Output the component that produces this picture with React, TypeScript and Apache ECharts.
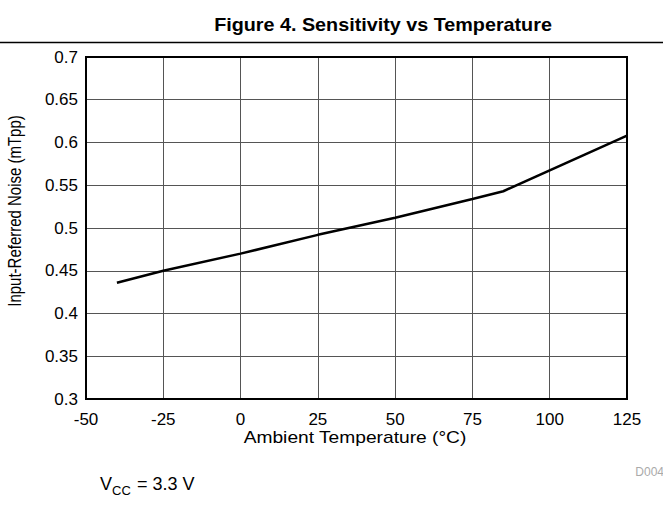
import React, { useEffect, useRef } from "react";
import * as echarts from "echarts";

const temperatures = [-40, -25, 0, 25, 50, 75, 85, 125];
const noise = [0.436, 0.45, 0.47, 0.492, 0.512, 0.534, 0.543, 0.608];
const titleText = "Figure 4. Sensitivity vs Temperature";
const xName = "Ambient Temperature (°C)";
const yName = "Input-Referred Noise (mTpp)";

export default function App() {
  const ref = useRef<HTMLDivElement>(null);
  useEffect(() => {
    const chart = echarts.init(ref.current!, null, { renderer: "svg" });
    const font = "Liberation Sans, Arial, Helvetica, sans-serif";
    chart.setOption({
      animation: false,
      backgroundColor: "#fff",
      textStyle: { fontFamily: font },
      grid: { left: 86, right: 36, top: 57, bottom: 111, containLabel: false },
      xAxis: {
        type: "value",
        min: -50,
        max: 125,
        interval: 25,
        axisLine: { show: false },
        axisTick: { show: false },
        axisLabel: { fontSize: 17, color: "#000", margin: 12, fontFamily: font },
        splitLine: { show: true, lineStyle: { color: "#555", width: 1 } },
      },
      yAxis: {
        type: "value",
        min: 0.3,
        max: 0.7,
        interval: 0.05,
        axisLine: { show: false },
        axisTick: { show: false },
        axisLabel: {
          fontSize: 17,
          color: "#000",
          margin: 8,
          fontFamily: font,
          formatter: (v: number) => String(parseFloat(v.toFixed(2))),
        },
        splitLine: { show: true, lineStyle: { color: "#555", width: 1 } },
      },
      series: [
        {
          type: "line",
          data: temperatures.map((t, i) => [t, noise[i]]),
          showSymbol: false,
          lineStyle: { color: "#000", width: 2.5 },
          z: 5,
        },
      ],
      graphic: [
        {
          type: "text",
          x: 383,
          y: 24,
          scaleX: 1.04,
          style: {
            text: titleText,
            font: `bold 19px ${font}`,
            fill: "#000",
            align: "center",
            verticalAlign: "middle",
          },
        },
        {
          type: "line",
          shape: { x1: 0, y1: 42.5, x2: 663, y2: 42.5 },
          style: { stroke: "#000", lineWidth: 1.5 },
        },
        {
          type: "rect",
          shape: { x: 86, y: 57, width: 541, height: 342 },
          style: { fill: "none", stroke: "#000", lineWidth: 2 },
          z: 10,
        },
        {
          type: "text",
          x: 355,
          y: 438,
          scaleX: 1.2,
          style: {
            text: xName,
            font: `16px ${font}`,
            fill: "#000",
            align: "center",
            verticalAlign: "middle",
          },
        },
        {
          type: "text",
          x: 15,
          y: 211,
          rotation: Math.PI / 2,
          scaleY: 1.2,
          style: {
            text: yName,
            font: `15px ${font}`,
            fill: "#000",
            align: "center",
            verticalAlign: "middle",
          },
        },
        {
          type: "text",
          x: 664,
          y: 472,
          style: {
            text: "D004",
            font: `12px ${font}`,
            fill: "#aaa",
            align: "right",
            verticalAlign: "middle",
          },
        },
        {
          type: "text",
          x: 100,
          y: 484,
          style: { text: "V", font: `18px ${font}`, fill: "#000", verticalAlign: "middle" },
        },
        {
          type: "text",
          x: 112,
          y: 490,
          style: { text: "CC", font: `13px ${font}`, fill: "#000", verticalAlign: "middle" },
        },
        {
          type: "text",
          x: 132,
          y: 484,
          style: { text: " = 3.3 V", font: `18px ${font}`, fill: "#000", verticalAlign: "middle" },
        },
      ],
    });
    return () => chart.dispose();
  }, []);
  return <div ref={ref} style={{ width: 663, height: 510, position: "absolute", left: 0, top: 0 }} />;
}
